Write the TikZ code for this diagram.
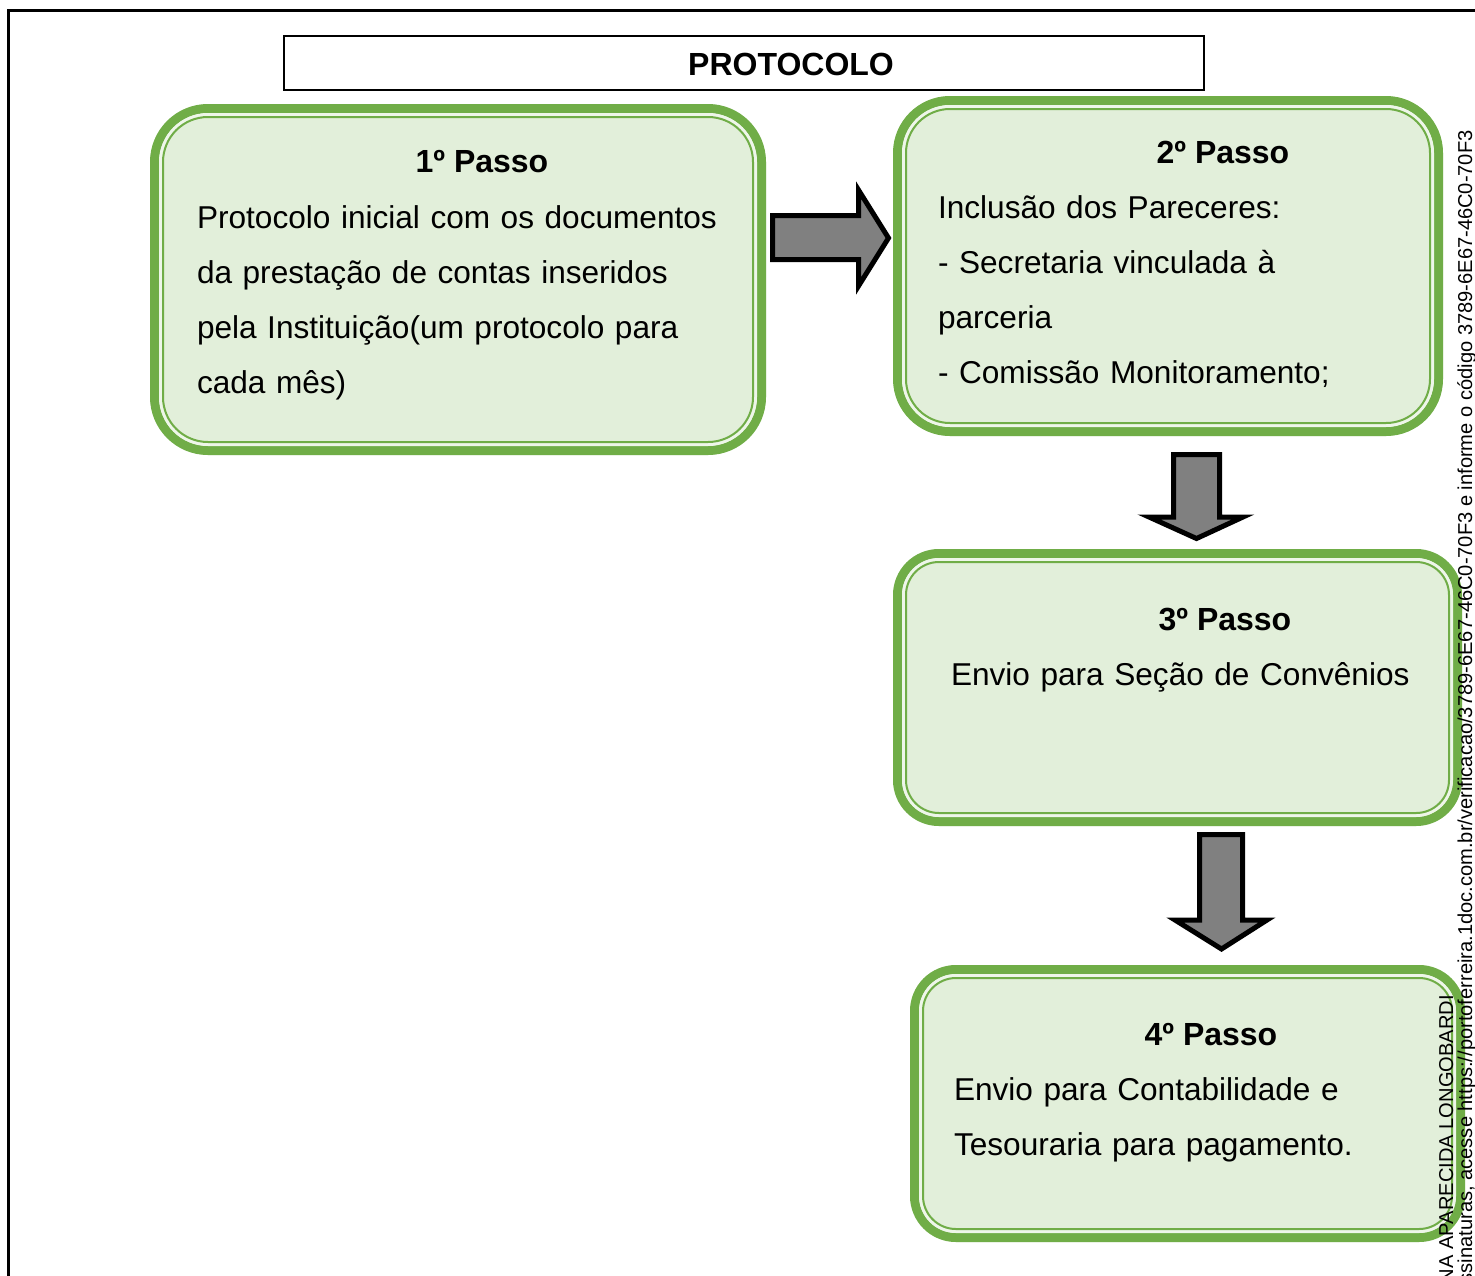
\documentclass[tikz,border=0pt]{standalone}
\usepackage{fontspec}
\setmainfont{Liberation Sans}
\usetikzlibrary{fit}
\definecolor{gline}{HTML}{70AD47}
\definecolor{gfill}{HTML}{E2EFDA}
\definecolor{ggap}{HTML}{EEF6E9}
\definecolor{arrowgray}{HTML}{808080}
\tikzset{
  bodytext/.style={font=\fontsize{31.6}{55}\selectfont, inner sep=0pt, outer sep=0pt, text width=620pt, align=left, anchor=base west},
  headtext/.style={font=\fontsize{32}{38}\selectfont\bfseries, inner sep=0pt, anchor=base},
  sidetext/.style={font=\fontsize{20.1}{24}\selectfont, inner sep=0pt, rotate=90, anchor=base east},
  blockarrow/.style={draw=black, line width=5pt, fill=arrowgray, line join=miter},
}
\newcommand\gbox[6]{%
  \node[fit={(#2,#3) (#4,#5)}, inner sep=0pt, outer sep=0pt] (#1) {};
  \pgfmathsetmacro\rA{#6}\pgfmathsetmacro\rB{#6-4.5}\pgfmathsetmacro\rC{#6-10.5}\pgfmathsetmacro\rD{#6-13}%
  \fill[gfill, rounded corners=\rA pt] (#1.north west) rectangle (#1.south east);
  \draw[gline, line width=9pt, rounded corners=\rB pt] ([shift={(4.5,4.5)}]#1.north west) rectangle ([shift={(-4.5,-4.5)}]#1.south east);
  \draw[ggap, line width=3pt, rounded corners=\rC pt] ([shift={(10.5,10.5)}]#1.north west) rectangle ([shift={(-10.5,-10.5)}]#1.south east);
  \draw[gline, line width=2pt, rounded corners=\rD pt] ([shift={(13,13)}]#1.north west) rectangle ([shift={(-13,-13)}]#1.south east);
}
\begin{document}
\begin{tikzpicture}[x=1pt, y=-1pt]
\useasboundingbox (0,0) rectangle (1475,1275);
\clip (0,0) rectangle (1475,1275);
% frame
\coordinate (fbl) at (8,1280);
\coordinate (ftl) at (8,10);
\coordinate (ftr) at (1480,10);
\draw[line width=3pt] (fbl) -- (ftl) -- (ftr);
% title
\node[fit={(284,36) (1204,90)}, inner sep=0pt, draw, line width=2.5pt] (title) {};
\node[headtext] (titletext) at (791,75.5) {PROTOCOLO};
% boxes
\gbox{b1}{150}{104}{766}{455}{58}
\gbox{b2}{893}{96}{1443}{436}{57}
\gbox{b3}{893}{549}{1462}{826}{46}
\gbox{b4}{910}{965}{1465}{1242}{46}
% texts
\node[headtext] (h1) at (482,172.5) {1º Passo};
\node[bodytext] (t1) at (197,228.5) {Protocolo inicial com os documentos\\da prestação de contas inseridos\\pela Instituição(um protocolo para\\cada mês)};
\node[headtext] (h2) at (1223,163.5) {2º Passo};
\node[bodytext] (t2) at (938,218.5) {Inclusão dos Pareceres:\\- Secretaria vinculada à\\parceria\\- Comissão Monitoramento;};
\node[headtext] (h3) at (1225,630.5) {3º Passo};
\node[bodytext] (t3) at (951,685.5) {Envio para Seção de Convênios};
\node[headtext] (h4) at (1211,1045.5) {4º Passo};
\node[bodytext] (t4) at (954,1100.5) {Envio para Contabilidade e\\Tesouraria para pagamento.};
% block arrows
\draw[blockarrow] (772.5,215.5) -- (858.5,215.5) -- (858.5,190) -- (888.5,238) -- (858.5,286) -- (858.5,259.5) -- (772.5,259.5) -- cycle;
\draw[blockarrow] (1173.5,454.5) -- (1219.5,454.5) -- (1219.5,517) -- (1243,517) -- (1196.5,538.5) -- (1149,517) -- (1173.5,517) -- cycle;
\draw[blockarrow] (1199.5,834.5) -- (1242.5,834.5) -- (1242.5,920) -- (1267,920) -- (1221.5,949) -- (1175,920) -- (1199.5,920) -- cycle;
% side texts
\node[sidetext] (s1) at (1472,130) {ssinaturas, acesse https://portoferreira.1doc.com.br/verificacao/3789-6E67-46C0-70F3 e informe o código 3789-6E67-46C0-70F3};
\node[sidetext] (s2) at (1453,995) {NA APARECIDA LONGOBARDI};
\end{tikzpicture}
\end{document}
